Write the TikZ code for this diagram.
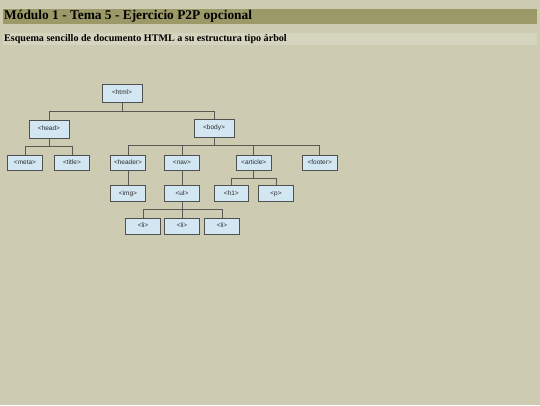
\documentclass[tikz,border=0pt]{standalone}
\usepackage{fontspec}
\newfontfamily\titlefont{Liberation Serif}
\newfontfamily\nodefont{Liberation Sans}
\definecolor{bgc}{HTML}{CDCBB2}
\definecolor{titlebar}{HTML}{9B9967}
\definecolor{subbar}{HTML}{D5D4BE}
\definecolor{boxfill}{HTML}{D3E7F3}
\definecolor{boxline}{HTML}{505050}
\definecolor{linkc}{HTML}{5A5A52}
\definecolor{txtc}{HTML}{2A2A2A}
\begin{document}
\begin{tikzpicture}[x=1pt,y=-1pt,
  boxbase/.style={draw=boxline,fill=boxfill,line width=0.8pt,inner sep=0pt,text height=4.6pt,text depth=1.4pt,font=\nodefont\fontsize{6.5}{7}\selectfont,text=txtc},
  big/.style={boxbase,minimum width=40pt,minimum height=18pt},
  small/.style={boxbase,minimum width=34.5pt,minimum height=15.5pt},
  link/.style={draw=linkc,line width=0.8pt}]
\fill[bgc] (0,0) rectangle (540,405);
\useasboundingbox (0,0) rectangle (540,405);
\fill[titlebar] (3,8.7) rectangle (536.5,24);
\fill[subbar] (3,33.3) rectangle (536.5,44.7);
\node[anchor=west,inner sep=0pt,font=\titlefont\bfseries\fontsize{13.4}{15}\selectfont] (title) at (4,16.5) {Módulo 1 - Tema 5 - Ejercicio P2P opcional};
\node[anchor=west,inner sep=0pt,font=\titlefont\bfseries\fontsize{10.1}{12}\selectfont] (subtitle) at (4,39.2) {Esquema sencillo de documento HTML a su estructura tipo árbol};
% nodes
\node[big] (html) at (122,93.2) {<html>};
\node[big] (head) at (49,129.3) {<head>};
\node[big] (body) at (214,128.2) {<body>};
\node[small] (meta) at (25,162.8) {<meta>};
\node[small] (title2) at (72,162.8) {<title>};
\node[small] (header) at (128,162.8) {<header>};
\node[small] (nav) at (182,162.8) {<nav>};
\node[small] (article) at (253.7,162.8) {<article>};
\node[small] (footer) at (319.7,162.8) {<footer>};
\node[small] (img) at (128,193.5) {<img>};
\node[small] (ul) at (182,193.5) {<ul>};
\node[small] (h1) at (231.3,193.5) {<h1>};
\node[small] (p) at (276,193.5) {<p>};
\node[small] (li1) at (143,226.2) {<li>};
\node[small] (li2) at (182,226.2) {<li>};
\node[small] (li3) at (222,226.2) {<li>};
% bus levels
\coordinate (bA) at (0,111);
\coordinate (bB) at (0,146);
\coordinate (bC) at (0,145.3);
\coordinate (bD) at (0,178.3);
\coordinate (bE) at (0,209.3);
% connectors
\begin{scope}[link]
\draw (html.south) -- (html.south |- bA) -| (head.north);
\draw (html.south |- bA) -| (body.north);
\draw (head.south) -- (head.south |- bB) -| (meta.north);
\draw (head.south |- bB) -| (title2.north);
\draw (body.south) -- (body.south |- bC) -| (header.north);
\draw (body.south |- bC) -| (nav.north);
\draw (body.south |- bC) -| (article.north);
\draw (body.south |- bC) -| (footer.north);
\draw (header.south) -- (img.north);
\draw (nav.south) -- (ul.north);
\draw (article.south) -- (article.south |- bD) -| (h1.north);
\draw (article.south |- bD) -| (p.north);
\draw (ul.south) -- (ul.south |- bE) -| (li1.north);
\draw (ul.south |- bE) -- (li2.north);
\draw (ul.south |- bE) -| (li3.north);
\end{scope}
\end{tikzpicture}
\end{document}
